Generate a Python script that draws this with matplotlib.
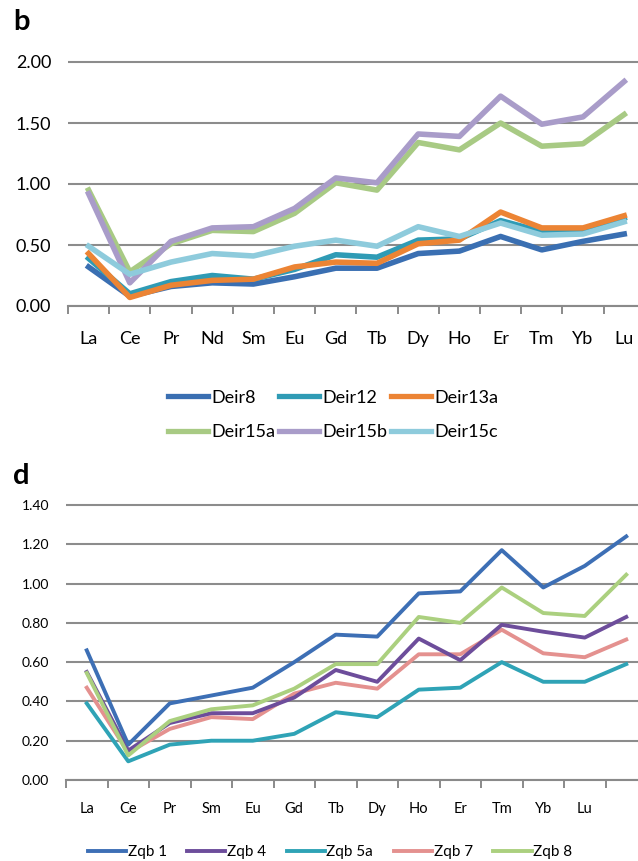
import numpy as np
import matplotlib.pyplot as plt
from matplotlib.lines import Line2D

plt.rcParams['font.family'] = ['Lato', 'DejaVu Sans']

# panel b
ree_b = ['La', 'Ce', 'Pr', 'Nd', 'Sm', 'Eu', 'Gd', 'Tb', 'Dy', 'Ho', 'Er', 'Tm', 'Yb', 'Lu']
deir8 = [0.32, 0.08, 0.16, 0.19, 0.18, 0.24, 0.31, 0.31, 0.43, 0.45, 0.57, 0.46, 0.53, 0.59]
deir12 = [0.39, 0.10, 0.20, 0.25, 0.22, 0.30, 0.42, 0.40, 0.54, 0.55, 0.70, 0.61, 0.61, 0.72]
deir13a = [0.43, 0.07, 0.17, 0.21, 0.22, 0.32, 0.36, 0.35, 0.51, 0.54, 0.77, 0.64, 0.64, 0.74]
deir15a = [0.95, 0.28, 0.51, 0.62, 0.61, 0.76, 1.01, 0.95, 1.34, 1.28, 1.50, 1.31, 1.33, 1.57]
deir15b = [0.92, 0.19, 0.53, 0.64, 0.65, 0.80, 1.05, 1.01, 1.41, 1.39, 1.72, 1.49, 1.55, 1.84]
deir15c = [0.49, 0.26, 0.36, 0.43, 0.41, 0.49, 0.54, 0.49, 0.65, 0.57, 0.68, 0.58, 0.59, 0.69]
names_b = ['Deir8', 'Deir12', 'Deir13a', 'Deir15a', 'Deir15b', 'Deir15c']
colors_b = ['#3a6fb2', '#2f9bb5', '#ec8434', '#a8ca84', '#a99cc9', '#8ecbdc']

# panel d
ree_d = ['La', 'Ce', 'Pr', 'Sm', 'Eu', 'Gd', 'Tb', 'Dy', 'Ho', 'Er', 'Tm', 'Yb', 'Lu', '']
zqb1 = [0.66, 0.18, 0.39, 0.43, 0.47, 0.60, 0.74, 0.73, 0.95, 0.96, 1.17, 0.98, 1.09, 1.24]
zqb4 = [0.55, 0.15, 0.29, 0.34, 0.34, 0.42, 0.56, 0.50, 0.72, 0.61, 0.79, 0.755, 0.725, 0.83]
zqb5a = [0.39, 0.095, 0.18, 0.20, 0.20, 0.235, 0.345, 0.32, 0.46, 0.47, 0.60, 0.50, 0.50, 0.59]
zqb7 = [0.47, 0.14, 0.26, 0.32, 0.31, 0.44, 0.495, 0.465, 0.64, 0.64, 0.765, 0.645, 0.625, 0.715]
zqb8 = [0.545, 0.125, 0.30, 0.36, 0.38, 0.465, 0.59, 0.59, 0.83, 0.80, 0.98, 0.85, 0.835, 1.045]
names_d = ['Zqb 1', 'Zqb 4', 'Zqb 5a', 'Zqb 7', 'Zqb 8']
colors_d = ['#3d6fb5', '#6d4d9b', '#2fa3b6', '#e4918f', '#abd07f']

W, H = 638, 861
fig = plt.figure(figsize=(W / 100, H / 100), dpi=100)


def px_axes(left, y0, top, x_step, n, ylim_top, y_max):
    # y0 = pixel row of value 0, top = pixel row of value y_max
    per_unit = (y0 - top) / y_max
    top_px = y0 - ylim_top * per_unit
    ax = fig.add_axes([left / W, (H - y0) / H, n * x_step / W, (y0 - top_px) / H])
    ax.set_xlim(-0.5, n - 0.5)
    ax.set_ylim(0, ylim_top)
    return ax


def style(ax, cats, yticks, fs_y, fs_x, xpad):
    n = len(cats)
    ax.set_yticks(yticks)
    ax.set_yticklabels(['%.2f' % v for v in yticks], fontsize=fs_y)
    ax.set_xticks(np.arange(n))
    ax.set_xticklabels(cats, fontsize=fs_x)
    ax.set_xticks(np.arange(n + 1) - 0.5, minor=True)
    ax.tick_params(axis='x', which='major', length=0, pad=xpad)
    ax.tick_params(axis='x', which='minor', length=5.5, width=1.4, color='#8a8a8a', direction='out')
    ax.tick_params(axis='y', length=0, pad=12)
    ax.grid(axis='y', color='#8c8c8c', lw=1.5)
    ax.set_axisbelow(True)
    for s in ['top', 'right', 'left']:
        ax.spines[s].set_visible(False)
    ax.spines['bottom'].set_color('#8a8a8a')
    ax.spines['bottom'].set_linewidth(1.5)


# top chart
ax1 = px_axes(68, 306, 62, 41.2, 14, 2.04, 2.0)
series_b = [deir8, deir12, deir13a, deir15a, deir15b, deir15c]
draw_order = [4, 3, 5, 1, 2, 0]
x = np.arange(len(ree_b))
for i in draw_order:
    ax1.plot(x, series_b[i], color=colors_b[i], lw=4.0, zorder=3 + i)
style(ax1, ree_b, [0, 0.5, 1.0, 1.5, 2.0], 13, 13, 18)
fig.text(13 / W, 1 - 30 / H, 'b', fontsize=21, fontweight='bold')

handles_b = [Line2D([], [], color=c, lw=3.8) for c in colors_b]
order = [0, 3, 1, 4, 2, 5]
fig.legend([handles_b[k] for k in order], [names_b[k] for k in order],
           ncol=3, loc='center', bbox_to_anchor=(333 / W, 1 - 415 / H),
           frameon=False, fontsize=13, handlelength=2.2, handletextpad=0.2,
           columnspacing=0.2, labelspacing=1.05, borderpad=0)

# bottom chart
ax2 = px_axes(66, 780, 505, 41.5, 14, 1.44, 1.4)
series_d = [zqb1, zqb4, zqb5a, zqb7, zqb8]
x = np.arange(len(ree_d))
for i in [2, 3, 1, 4, 0]:
    ax2.plot(x, series_d[i], color=colors_d[i], lw=2.8, zorder=3)
style(ax2, ree_d, [0, 0.2, 0.4, 0.6, 0.8, 1.0, 1.2, 1.4], 10, 10.5, 16)
fig.text(13 / W, 1 - 484 / H, 'd', fontsize=21, fontweight='bold')

handles_d = [Line2D([], [], color=c, lw=2.8) for c in colors_d]
fig.legend(handles_d, names_d, ncol=5, loc='center', bbox_to_anchor=(330 / W, 1 - 852 / H),
           frameon=False, fontsize=11, handlelength=2.5, handletextpad=0.1,
           columnspacing=1.35, borderpad=0)

fig.savefig('out.png', dpi=100)
